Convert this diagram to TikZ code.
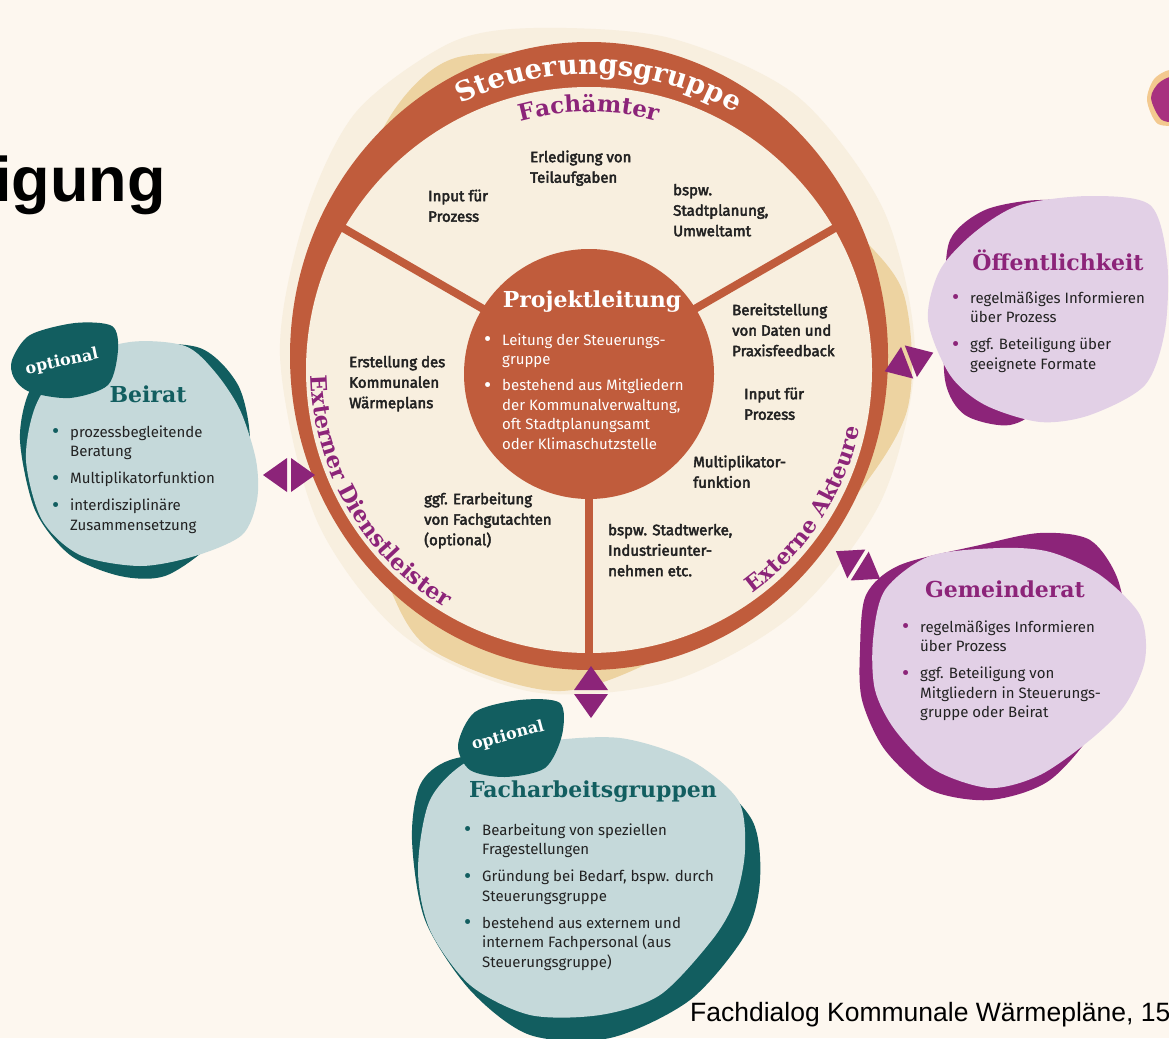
\documentclass[tikz,border=0pt]{standalone}
\usepackage{fontspec}
\setmainfont{Fira Sans}
\newfontfamily\slab{DejaVu Serif}
\newfontfamily\wheelfont{Fira Sans}[FakeBold=3]
\newfontfamily\arialfont{Liberation Sans}
\usetikzlibrary{calc}
\usetikzlibrary{decorations.text}

\definecolor{paper}{HTML}{FDF7EF}
\definecolor{halo}{HTML}{F8EFDF}
\definecolor{sand}{HTML}{EDD3A1}
\definecolor{ringorange}{HTML}{C05C3C}
\definecolor{wheelcream}{HTML}{F8EFDF}
\definecolor{plum}{HTML}{8C2479}
\definecolor{lilac}{HTML}{E2D0E6}
\definecolor{tealdark}{HTML}{125E60}
\definecolor{teallight}{HTML}{C5D9DA}
\definecolor{ink}{HTML}{222222}
\definecolor{cornerplum}{HTML}{A8317F}
\definecolor{cornertan}{HTML}{F3C98F}

\newcommand{\bul}[1]{\makebox[18pt][l]{\raisebox{-1.6pt}{\fontsize{22}{19.5}\selectfont\textcolor{#1}{•}}}}
\newcommand{\cont}{\hspace*{18pt}}

\tikzset{
  wheeltext/.style={anchor=north west, yshift=14.35pt, inner sep=0pt, align=left, text=ink,
    font=\wheelfont\fontsize{15}{20.5}\selectfont},
  listtext/.style={anchor=north west, yshift=13.65pt, inner sep=0pt, align=left, text=ink,
    font=\fontsize{15}{19.5}\selectfont},
  boxhead/.style={inner sep=0pt, font=\slab\bfseries\fontsize{22}{24}\selectfont},
  tagtext/.style={inner sep=0pt, text=white, font=\slab\bfseries\fontsize{16}{18}\selectfont},
  spoke/.style={ringorange, line width=8pt},
  arrowpair/.pic={
    \fill[plum] (2,-17) -- (26,0) -- (2,17) -- cycle;
    \fill[plum] (-2,-17) -- (-26,0) -- (-2,17) -- cycle;
  }
}

\begin{document}
\begin{tikzpicture}[x=1pt,y=-1pt]
  \useasboundingbox (0,0) rectangle (1169,1038);
  \fill[paper] (0,0) rectangle (1169,1038);

  \fill[halo] plot[smooth cycle] coordinates {(280,356) (305,217) (356,112) (450,43) (534,28)
    (670,38) (797,96) (884,211) (915,356) (882,499) (795,613) (672,681) (533,692) (404,636)
    (317,521)};
  \fill[sand] plot[smooth cycle] coordinates {(350,250) (385,125) (455,58) (589,64) (760,135)
    (850,225) (904,295) (906,414) (830,525) (690,640) (561,691) (429,648) (380,565) (330,435)};

  \fill[ringorange] (589,356) ellipse[x radius=299, y radius=314];
  \fill[wheelcream] (589,370) circle[radius=283];

  \coordinate (hub) at (589,370);
  \coordinate (spokeA) at ($(hub)+(210:288)$);
  \coordinate (spokeB) at ($(hub)+(330:288)$);
  \coordinate (spokeC) at ($(hub)+(90:288)$);
  \draw[spoke] (hub) -- (spokeA);
  \draw[spoke] (hub) -- (spokeB);
  \draw[spoke] (hub) -- (spokeC);

  \node[circle, fill=ringorange, minimum size=250pt, inner sep=0pt] (pl) at (589,374) {};
  \node[inner sep=0pt, text=white, font=\slab\bfseries\fontsize{22}{24}\selectfont] (plhead) at (592,302) {Projektleitung};
  \node[listtext, text=white] (pllist) at (484,345) {\strut\bul{white}Leitung der Steuerungs-\\\cont gruppe\\[6.5pt]\bul{white}bestehend aus Mitgliedern\\\cont der Kommunalverwaltung,\\\cont oft Stadtplanungsamt\\\cont oder Klimaschutzstelle};

  \path[decorate, decoration={text along path, text align=center,
    text={|\slab\bfseries\fontsize{27.5}{30}\selectfont\color{white}|Steuerungsgruppe}}]
    ($(hub)+(234:296)$) arc[start angle=234, end angle=310, radius=296];
  \path[decorate, decoration={text along path, text align=center,
    text={|\slab\bfseries\fontsize{23}{26}\selectfont\color{plum}|Fachämter}}]
    ($(hub)+(248:258)$) arc[start angle=248, end angle=292, radius=258];
  \path[decorate, decoration={text along path, text align=center,
    text={|\slab\bfseries\fontsize{22.5}{25}\selectfont\color{plum}|Externer Dienstleister}}]
    ($(hub)+(186:278)$) arc[start angle=186, end angle=114, radius=278];
  \path[decorate, decoration={text along path, text align=center,
    text={|\slab\bfseries\fontsize{22}{25}\selectfont\color{plum}|Externe Akteure}}]
    ($(hub)+(62:277)$) arc[start angle=62, end angle=4, radius=277];

  \node[wheeltext] (teilaufgaben) at (530,162) {\strut Erledigung von\\Teilaufgaben};
  \node[wheeltext] (inputtop) at (428,201) {\strut Input für\\Prozess};
  \node[wheeltext] (aemter) at (673,195) {\strut bspw.\\Stadtplanung,\\Umweltamt};
  \node[wheeltext] (daten) at (732,315) {\strut Bereitstellung\\von Daten und\\Praxisfeedback};
  \node[wheeltext] (inputright) at (744,399) {\strut Input für\\Prozess};
  \node[wheeltext] (multi) at (693,467) {\strut Multiplikator-\\funktion};
  \node[wheeltext] (werke) at (608,535) {\strut bspw. Stadtwerke,\\Industrieunter-\\nehmen etc.};
  \node[wheeltext] (waermeplan) at (349,367) {\strut Erstellung des\\Kommunalen\\Wärmeplans};
  \node[wheeltext] (gutachten) at (424,504) {\strut ggf. Erarbeitung\\von Fachgutachten\\(optional)};

  \fill[tealdark] plot[smooth cycle] coordinates {(20,440) (30,390) (60,360) (130,345) (200,348)
    (238,385) (250,440) (240,500) (210,545) (165,576) (120,576) (70,555) (35,510)};
  \fill[teallight] plot[smooth cycle] coordinates {(26,460) (36,405) (68,362) (130,342) (185,346)
    (215,372) (240,410) (256,460) (257,500) (242,535) (195,556) (140,566) (80,555) (42,520)};
  \fill[tealdark] plot[smooth cycle] coordinates {(12,360) (30,335) (75,323) (112,326) (118,350)
    (108,385) (70,398) (30,392) (14,378)};
  \node[tagtext, rotate=12] (beiratopt) at (62,362) {optional};
  \node[boxhead, text=tealdark] (beirat) at (148,394) {Beirat};
  \node[listtext] (beiratlist) at (52,437) {\strut\bul{tealdark}prozessbegleitende\\\cont Beratung\\[7.5pt]\bul{tealdark}Multiplikatorfunktion\\[7.5pt]\bul{tealdark}interdisziplinäre\\\cont Zusammensetzung};

  \fill[plum] plot[smooth cycle] coordinates {(945,300) (950,240) (985,210) (1040,200) (1080,210)
    (1060,300) (1040,400) (1010,425) (965,415) (945,380)};
  \fill[lilac] plot[smooth cycle] coordinates {(928,320) (940,270) (975,232) (1020,205) (1090,196)
    (1150,205) (1167,260) (1165,330) (1145,385) (1090,415) (1040,422) (985,405) (950,375)};
  \node[boxhead, text=plum] (oeffentlichkeit) at (1058,260) {Öffentlichkeit};
  \node[listtext] (oeffentlist) at (952,303) {\strut\bul{plum}regelmäßiges Informieren\\\cont über Prozess\\[7.5pt]\bul{plum}ggf. Beteiligung über\\\cont geeignete Formate};

  \fill[plum] plot[smooth cycle] coordinates {(860,650) (866,595) (900,565) (980,545) (1040,533)
    (1090,540) (1118,580) (1125,640) (1100,720) (1050,780) (990,800) (930,790) (885,750) (862,700)};
  \fill[lilac] plot[smooth cycle] coordinates {(873,640) (885,590) (930,556) (1000,548) (1050,552)
    (1100,575) (1140,615) (1145,660) (1125,705) (1090,740) (1040,775) (990,788) (935,770)
    (895,730) (875,690)};
  \node[boxhead, text=plum] (gemeinderat) at (1005,589) {Gemeinderat};
  \node[listtext] (gemeindelist) at (902,632) {\strut\bul{plum}regelmäßiges Informieren\\\cont über Prozess\\[7.5pt]\bul{plum}ggf. Beteiligung von\\\cont Mitgliedern in Steuerungs-\\\cont gruppe oder Beirat};

  \fill[tealdark] plot[smooth cycle] coordinates {(412,840) (420,785) (450,760) (520,750) (620,745)
    (700,770) (752,820) (760,880) (745,935) (690,1000) (610,1038) (530,1035) (470,990) (425,920)};
  \fill[teallight] plot[smooth cycle] coordinates {(418,870) (430,800) (470,760) (540,742) (620,738)
    (690,760) (738,800) (745,850) (735,900) (712,940) (660,995) (600,1015) (530,1015) (470,985)
    (430,930)};
  \fill[tealdark] plot[smooth cycle] coordinates {(458,745) (475,712) (520,700) (560,703) (562,735)
    (545,768) (505,777) (470,770)};
  \node[tagtext, rotate=15] (fachopt) at (508,736) {optional};
  \node[boxhead, text=tealdark] (fachgruppen) at (593,792) {Facharbeitsgruppen};
  \node[listtext] (fachlist) at (464,835) {\strut\bul{tealdark}Bearbeitung von speziellen\\\cont Fragestellungen\\[7.5pt]\bul{tealdark}Gründung bei Bedarf, bspw. durch\\\cont Steuerungsgruppe\\[7.5pt]\bul{tealdark}bestehend aus externem und\\\cont internem Fachpersonal (aus\\\cont Steuerungsgruppe)};

  \pic (beiratpair) at (289,475) {arrowpair};
  \pic[rotate=90] (fachpair) at (591,692) {arrowpair};
  \pic[rotate=21] (oeffpair) at (909,362) {arrowpair};
  \pic[rotate=-32] (gemeindepair) at (858,565) {arrowpair};

  \fill[cornertan] plot[smooth cycle] coordinates {(1147,100) (1155,78) (1175,72) (1182,120) (1158,124)};
  \fill[cornerplum] plot[smooth cycle] coordinates {(1151,98) (1160,82) (1178,78) (1182,118) (1162,120)};

  \node[anchor=base east, inner sep=0pt, font=\arialfont\bfseries\fontsize{63}{70}\selectfont] (title) at (166,201) {igung};
  \node[anchor=base west, inner sep=0pt, font=\arialfont\fontsize{26.5}{30}\selectfont] (footer) at (690,1021) {Fachdialog Kommunale Wärmepläne, 15};
\end{tikzpicture}
\end{document}
